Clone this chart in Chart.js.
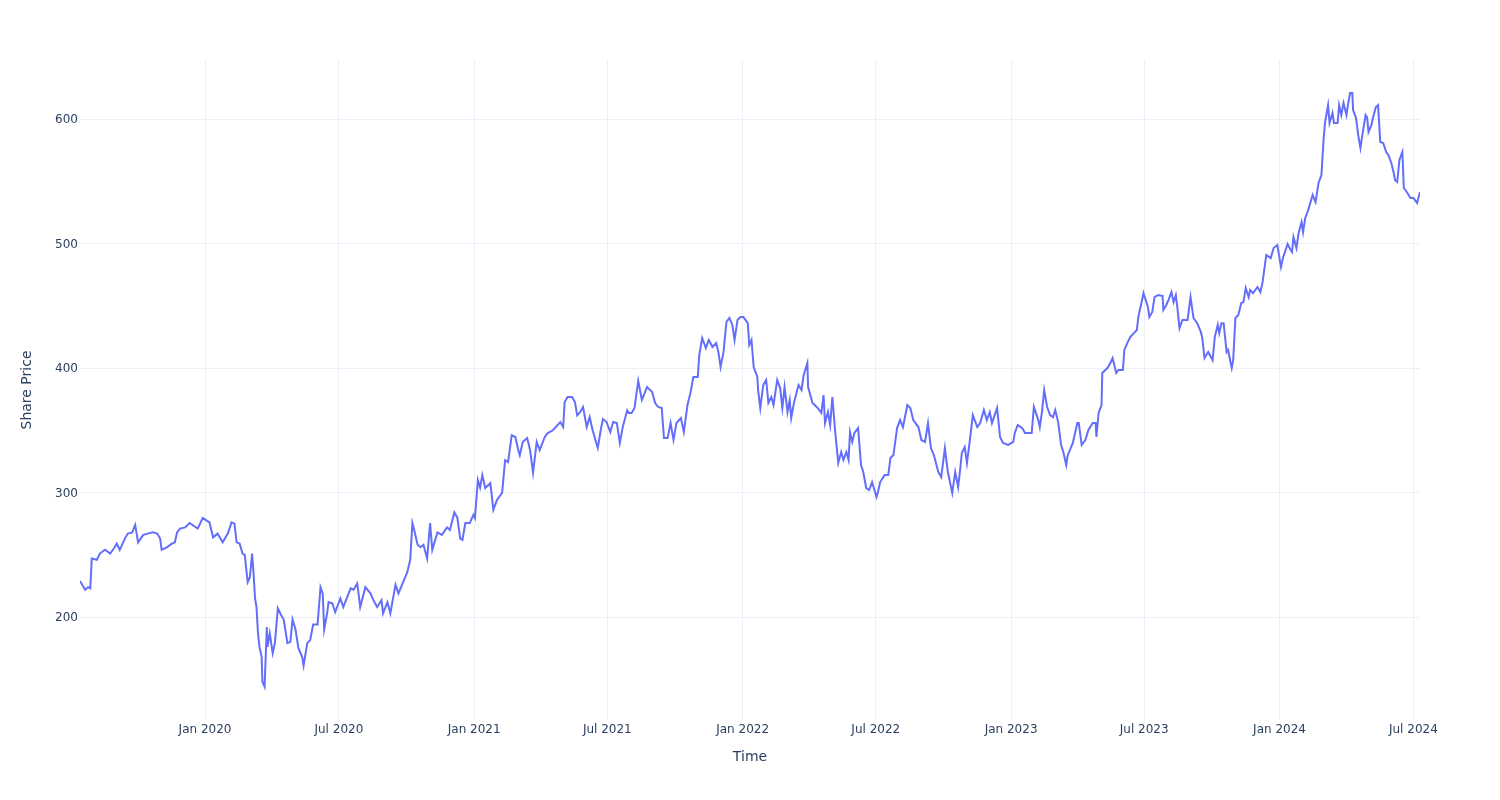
<!DOCTYPE html>
<html><head><meta charset="utf-8">
<script src="https://cdn.jsdelivr.net/npm/chart.js@4.4.1/dist/chart.umd.min.js"></script>
<style>html,body{margin:0;padding:0;background:#fff;}#wrap{width:1500px;height:800px;position:relative;}</style>
</head><body><div id="wrap"><canvas id="c" width="1500" height="800"></canvas></div>
<script>
const startDate = '2019-07-15';
const dayOffsets = [0,7,11,14,16,23,27,34,41,46,50,54,61,65,71,75,79,86,92,99,105,109,111,118,125,129,132,136,143,149,160,167,176,181,187,194,201,206,210,213,217,221,224,228,231,234,236,238,240,242,244,247,248,251,254,255,258,262,265,269,
273,277,282,286,289,293,297,302,304,309,313,317,323,327,330,332,336,338,343,347,354,358,368,372,377,381,388,395,399,404,410,412,418,422,429,433,438,445,449,452,454,459,463,467,472,476,479,486,492,499,503,509,513,517,520,524,530,535,537,541,544,547,551,558,562,567,574,578,582,587,592,596,598,602,608,612,616,621,625,632,636,643,649,653,657,659,663,669,673,676,680,684,689,693,697,704,708,711,716,721,725,730,734,738,744,746,750,754,759,764,771,778,782,786,791,794,799,803,807,811,
817,821,826,830,834,840,842,846,851,855,860,865,868,871,875,879,883,887,890,894,898,902,908,910,913,916,921,922,925,929,933,936,940,943,948,952,955,958,962,965,967,971,977,981,984,989,990,996,1003,1008,1011,1013,1017,1020,1023,1027,1031,1035,1038,1042,1045,1047,1050,1053,1058,1062,1065,1069,1073,1077,1083,1085,1088,1094,1099,1102,1106,1111,1115,1119,1125,1129,1133,1140,1144,1149,1153,1157,1161,1167,1171,1176,1180,1186,1190,1194,1197,1199,1203,1206,1210,1214,1220,1224,1229,1233,1237,1240,1247,1251,1255,1262,1269,1271,1275,1281,1285,1290,1294,1297,1303,1305,1308,1311,1315,1319,1323,1326,1330,1334,1337,1341,1343,1350,1356,1358,
1362,1367,1371,1377,1381,1382,1385,1389,1390,1397,1401,1404,1409,1412,1418,1420,1424,1428,1433,1437,1439,1445,1446,1452,1454,1458,1461,1466,1472,1473,1477,1480,1484,1487,1490,1492,1495,1499,1506,1510,1514,1519,1524,1526,1529,1534,1540,1543,1547,1549,1552,1555,1559,1561,1566,1568,1571,1575,1579,1582,1585,1589,1591,1595,1601,1605,1608,1613,1619,1623,1628,1633,1636,1642,1646,1648,1650,1654,1657,1661,1663,1666,1670,1676,1680,1684,1688,1691,1693,1697,1699,1703,1705,1710,1712,1715,1718,1722,1724,1727,1730,1731,1735,1738,1741,1743,1748,1750,1752,1756,1758,1762,1765,1768,1772,1776,1779,1783,1786,1788,1791,1794,1798,1800,1804,1809,1813,1818,1822];
const sharePrice = [229,222,224,223,247,246,251,254,251,255,259,254,263,267,268,274,260,266,267,268,267,263,254,256,259,260,268,271,272,275.5,271,279.5,276,264,267,260,267,276,275,260,259,251,250,228,232,251,235,215,208,187,176,168,148,144,192,176,187,171,179,207,
202,198,179,180,198,190,175,168,161,179,181.5,194,194,224,219,190,203,212,211,204,215,208,223,222,227,208,224,219,213.6,208,213.6,203,212,203,226,219,226,236,246,275.5,271,258,256,258,247,275.5,254,268,266,272,270,284,280,263,262,275.5,275.5,282,279.5,310,304,314,303.6,307.6,286,294,300,326,324.5,346,344.6,334,330,340.6,343.8,334,316,340.6,334,344.6,347.8,350,354,356.6,352.6,372.7,376.7,376.7,372.7,362,364.6,368.7,352.6,360.6,350,335.7,350,359,356.6,348.6,356.6,355.8,339.8,352.6,366,363.8,363.8,367.9,389.6,374.3,384.7,380.7,371.9,368.7,367.9,343.8,343.8,355.8,342.2,355.8,
359.8,348.6,370.3,379.9,392.8,392.8,410.4,424,416,422.5,416.9,420,412.9,400.8,412.9,437,440.2,434.6,422.5,438.6,441,441,436,418.5,422.5,400.8,392.8,382.3,367.9,386.3,390.4,371.9,376.7,370.3,390.4,383.9,367.9,384.7,364.7,374.3,359.8,372.7,386.3,382.3,394.4,404,384.7,371.9,367.9,363.9,378.3,355.8,364.7,354.2,376.7,347.8,323.7,332.5,326.1,332.5,326.1,348.6,340.6,347.8,351.8,322.1,316.5,303.6,302,308.4,296.4,300.4,308.4,314,314,327.7,330.1,351.8,358.2,352.6,370.3,367.9,358.2,352.6,342.2,340.6,355.8,335.7,330.1,316.5,312.4,335.7,316.5,299.6,316.5,304.4,319.7,331.7,336.5,323.7,342.2,362.2,352.6,355.8,366.3,358.2,364.6,355.8,367.9,344.6,339.8,338.2,340.6,347.8,354.2,351.8,347.8,347.8,347.8,368.7,358.2,352.6,364.6,382.3,368.7,362.2,360.6,366.3,356.6,338.2,332.5,322.1,330,339.8,355.8,355.8,
338.2,342.2,350,355.8,355.8,344.6,363.9,370.3,396,400,404,408,396,398.4,398.4,414.5,420,424.9,428,430.5,441,457,460.2,449,441,445,457,458.6,457.8,446.6,450.6,454.6,461,453,458.6,449,432,438.6,438.6,457,440.2,436,429,424,408,412.9,406.4,424.9,434.6,428,436,436,412.9,414.5,400,406.4,440.2,442.6,452.2,453,464.3,457,462.7,460.2,465.1,461,469.1,490.8,488.3,496.4,498.8,481.1,489.2,499.6,494.8,493.2,505.2,496.4,508.4,517.3,509.2,520.5,526.9,539,533.3,548.6,555,584.7,597.6,611.2,596.8,604.8,596.8,596.8,611.2,603.2,612.8,603.2,611.2,620.8,620.8,607.2,600.8,587.1,576.7,584.7,603.2,601.6,589.6,595.2,600.8,609.6,611.2,581.5,580.7,573.5,571.1,564.7,557.4,551,549.4,567.1,573.5,544.6,541.4,536.6,536.6,532.6,541.4];
const xTickDates = ['2020-01-01','2020-07-01','2021-01-01','2021-07-01','2022-01-01','2022-07-01','2023-01-01','2023-07-01','2024-01-01','2024-07-01'];
const xTickLabels = ['Jan 2020','Jul 2020','Jan 2021','Jul 2021','Jan 2022','Jul 2022','Jan 2023','Jul 2023','Jan 2024','Jul 2024'];
const yTickValues = [200,300,400,500,600];
const yRange = [117.3, 647.4];
const xTitle = 'Time';
const yTitle = 'Share Price';

const DAY = 86400000;
const t0 = Date.parse(startDate);
const tickPos = xTickDates.map(d => (Date.parse(d) - t0) / DAY);
const points = dayOffsets.map((d, i) => ({x: d, y: sharePrice[i]}));
const FONT = 'DejaVu Sans, Verdana, sans-serif';
const TXT = '#2a3f5f';
const GRID = '#EBF0F8';

new Chart(document.getElementById('c'), {
  type: 'line',
  data: { datasets: [{ data: points, borderColor: '#636efa', borderWidth: 2, pointRadius: 0, tension: 0, fill: false }] },
  options: {
    responsive: false, animation: false, devicePixelRatio: 1,
    layout: { padding: { left: 0, right: 80, top: 60, bottom: 0 } },
    plugins: { legend: { display: false }, tooltip: { enabled: false } },
    scales: {
      x: {
        type: 'linear',
        min: dayOffsets[0], max: dayOffsets[dayOffsets.length - 1],
        afterBuildTicks: s => { s.ticks = tickPos.map(v => ({ value: v })); },
        afterFit: s => { s.height = 80; },
        grid: { color: GRID, lineWidth: 1, drawTicks: false },
        border: { display: false },
        ticks: { autoSkip: false, maxRotation: 0, padding: 3, color: TXT, font: { family: FONT, size: 12 },
          callback: (v) => { const i = tickPos.indexOf(v); return i >= 0 ? xTickLabels[i] : ''; } },
        title: { display: true, text: xTitle, color: TXT, font: { family: FONT, size: 14 }, padding: { top: 0, bottom: 34 } }
      },
      y: {
        min: yRange[0], max: yRange[1],
        afterBuildTicks: s => { s.ticks = yTickValues.map(v => ({ value: v })); },
        afterFit: s => { s.width = 80; },
        grid: { color: GRID, lineWidth: 1, drawTicks: false },
        border: { display: false },
        ticks: { padding: 2, labelOffset: 1, color: TXT, font: { family: FONT, size: 12 } },
        title: { display: true, text: yTitle, color: TXT, font: { family: FONT, size: 14 }, padding: { top: 19, bottom: 0 } }
      }
    }
  }
});
</script></body></html>
